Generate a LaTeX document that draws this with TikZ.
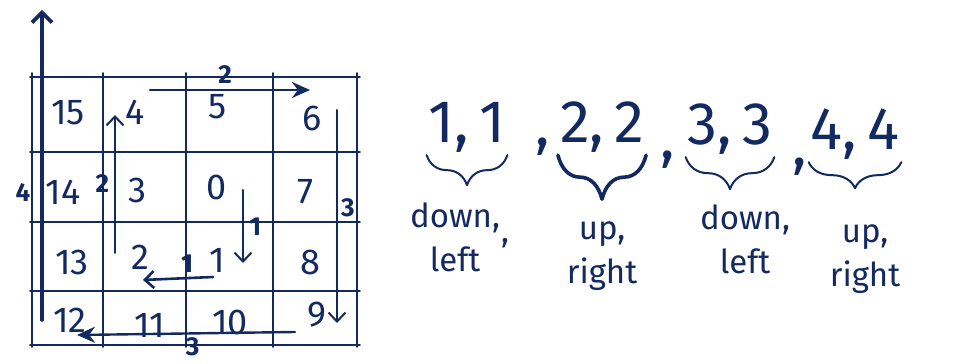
\documentclass[tikz,border=0pt]{standalone}
\usepackage{fontspec}
\setmainfont{Fira Sans}
\usepackage{tikz}
\usetikzlibrary{arrows.meta,positioning,decorations.pathreplacing}
\definecolor{ink}{RGB}{18,42,96}

\begin{document}
\begin{tikzpicture}[
  x=1pt,y=1pt,
  color=ink,line cap=round,line join=round,
  grid/.style={line width=1.8pt},
  num/.style={font=\fontsize{36}{36}\selectfont,inner sep=0pt},
  tag/.style={font=\fontsize{26}{26}\selectfont\bfseries,inner sep=2pt},
  arr/.style={-{Straight Barb[length=9pt,width=17pt]},line width=2pt},
  farr/.style={-{Stealth[length=18pt,width=16pt]},line width=2.4pt},
  pair/.style={font=\fontsize{60}{60}\selectfont,inner sep=2pt},
  word/.style={font=\fontsize{33}{44}\selectfont,align=center,inner sep=2pt},
  brc/.style={decorate,decoration={brace,mirror,amplitude=#1},line width=2pt}
]
\useasboundingbox (0,0) rectangle (970,364);

% grid
\foreach \x in {32,103,186,273,357} \draw[grid] (\x,291) -- (\x,17);
\foreach \y in {287,212,142,73,19} \draw[grid] (30,\y) -- (360,\y);

% cell numbers
\foreach \n/\x/\y in {15/68/251,4/135/252,5/218/257,6/312/246,
                      14/63/172,3/137/174,0/217/177,7/305/172,
                      13/72/102,2/140/107,1/217/104,8/310/102,
                      12/70/44,11/150/39,10/230/42,9/317/49}
  \node[num] (c\n) at (\x,\y) {\n};

% spiral steps
\coordinate (d1) at (243,174); \coordinate (d1e) at (243,101);
\coordinate (l1s) at (213,87); \coordinate (l1e) at (143,84);
\coordinate (u2) at (115,111); \coordinate (u2e) at (115,249);
\coordinate (r2) at (150,274); \coordinate (r2e) at (310,274);
\coordinate (d3) at (337,254); \coordinate (d3e) at (337,41);
\coordinate (l3s) at (295,32); \coordinate (l3e) at (77,29);
\coordinate (u4) at (42,44); \coordinate (u4e) at (42,354);

\draw[arr] (d1) -- node[tag,right=3pt]{1} (d1e);
\draw[arr,line width=2.6pt] (l1s) -- node[tag,above=2pt,pos=0.37]{1} (l1e);
\draw[arr] (u2) -- node[tag,left=3pt]{2} (u2e);
\draw[farr] (r2) -- node[tag,above=3pt,pos=0.47]{2} (r2e);
\draw[arr] (d3) -- node[tag,right=1pt,pos=0.46]{3} (d3e);
\draw[farr] (l3s) -- node[tag,below=1pt,pos=0.47]{3} (l3e);
\draw[arr,line width=3.6pt,-{Straight Barb[length=10pt,width=20pt]}] (u4) -- node[tag,left=8pt,pos=0.41]{4} (u4e);

% step lengths and directions
\node[pair,anchor=base] (p1) at (467,221) {1,\,1};
\node[pair,anchor=base] (p2) at (602,221) {2,\,2};
\node[pair,anchor=base] (p3) at (730,219) {3,\,3};
\node[pair,anchor=base] (p4) at (855,214) {4,\,4};
\node[pair] (s1) at (543,217) {,};
\node[pair] (s2) at (668,204) {,};
\node[pair] (s3) at (800,197) {,};

\draw[brc=30] (p1.south west) -- (p1.south east);
\draw[brc=44,line width=3.6pt] (p2.south west) -- (p2.south east);
\draw[brc=32] (p3.south west) -- (p3.south east);
\draw[brc=26] (p4.south west) -- (p4.south east);

\node[word,below=45pt of p1,xshift=-12pt] (w1) {down,\\left};
\node[word] (k1) at (505,121) {,};
\node[word,below=64pt of p2] (w2) {up,\\right};
\node[word,below=45pt of p3,xshift=15pt] (w3) {down,\\left};
\node[word,below=60pt of p4,xshift=10pt] (w4) {up,\\right};
\end{tikzpicture}
\end{document}
